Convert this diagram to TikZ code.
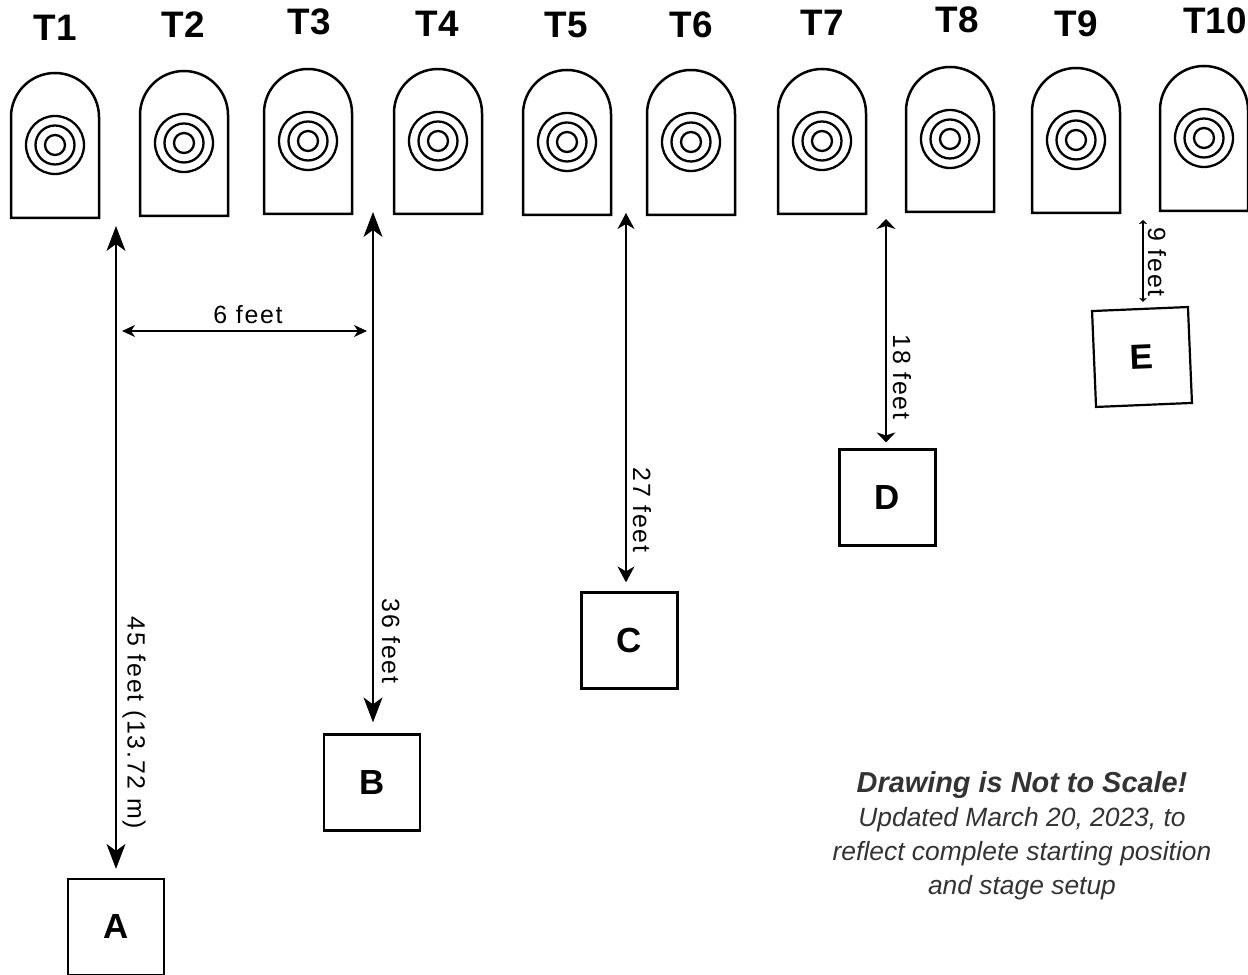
\documentclass[tikz,border=0pt]{standalone}
\usepackage{fontspec}
\setsansfont{Liberation Sans}
\newfontfamily\dimfont[LetterSpace=7]{Liberation Sans}
\usetikzlibrary{arrows.meta}
\definecolor{notegray}{HTML}{333333}

\begin{document}
\begin{tikzpicture}[
             x                = 1bp,
             y                = 1bp,
             target/.style    = {draw, line width = 2.5bp},
             ring/.style      = {draw, line width = 2.3bp},
             stand/.style     = {draw, line width = 2.2bp, minimum size = 96bp, inner sep = 0pt,
                                 font = \sffamily\bfseries\fontsize{35}{35}\selectfont},
             tlabel/.style    = {inner sep = 0pt, font = \sffamily\bfseries\fontsize{37}{37}\selectfont},
             dimlabel/.style  = {inner sep = 0pt, rotate = -90, font = \dimfont\fontsize{25}{25}\selectfont},
             dim/.style       = {line width = 1.2bp, <->},
             bigtips/.style   = {dim, >={Stealth[length = 25bp, width = 19bp, inset = 7bp]}},
             midtips/.style   = {dim, >={Stealth[length = 16bp, width = 17bp, inset = 5bp]}},
             flattips/.style  = {dim, >={Stealth[length = 10bp, width = 19bp, inset = 3bp]}},
             smalltips/.style = {dim, >={Stealth[length = 13bp, width = 12bp, inset = 4bp]}},
             tinytips/.style  = {dim, >={Stealth[length = 4bp, width = 8bp, inset = 1bp]}},
             note/.style      = {align = center, inner sep = 0pt, text = notegray,
                                 font = \sffamily\itshape\fontsize{26.5}{34}\selectfont}]
             \useasboundingbox (0,0) rectangle (1248,975);
             % targets T1 ... T10
             \foreach \i/\cx/\ty/\lx/\ly in {1/55/902/55/947, 2/184/904/183/950,
                    3/308/906/309/953, 4/438/906/437/951, 5/567/905/566/950,
                    6/691/905/691/950, 7/822/906/822/952, 8/950/908/957/955,
                    9/1076/907/1076/951, 10/1204/909/1215/954}{
               \draw [target] (\cx-44,\ty-145) -- (\cx-44,\ty-44)
                     arc [start angle=180, end angle=0, radius=44] -- (\cx+44,\ty-145) -- cycle;
               \coordinate (tgt\i) at (\cx,\ty-72);
               \foreach \r in {29,19.5,10}
                 \draw [ring] (tgt\i) circle [radius=\r];
               \node [tlabel] (lab\i) at (\lx,\ly) {T\i};
             }
             % starting positions
             \node [stand] (A) at (116,48)    {A};
             \node [stand] (B) at (372,192.5) {B};
             \node [stand] (C) at (629.5,334.5) {C};
             \node [stand] (D) at (887.5,477.5) {D};
             \node [stand, rotate=2.4] (E) at (1142,618) {E};
             % distances
             \coordinate (atop) at (116,749);
             \coordinate (btop) at (373,763);
             \coordinate (ctop) at (626,762);
             \coordinate (dtop) at (886,756);
             \coordinate (etop) at (1143,755);
             \draw [bigtips, shorten > = 9bp]  (atop) -- (atop |- A.north);
             \draw [bigtips, shorten > = 11bp] (btop) -- (btop |- B.north);
             \draw [midtips, shorten > = 9bp]  (ctop) -- (ctop |- C.north);
             \draw [flattips, shorten > = 6bp] (dtop) -- (dtop |- D.north);
             \draw [tinytips, shorten > = 6bp] (etop) -- (etop |- E.north);
             \coordinate (sixa) at (116,644);
             \coordinate (sixb) at (373,644);
             \draw [smalltips, shorten < = 6bp, shorten > = 6bp] (sixa) -- (sixb);
             \node [dimlabel, rotate = 90] (six) at (248,660) {6 feet};
             \node [dimlabel] (fortyfive) at (134,252) {45 feet (13.72 m)};
             \node [dimlabel] (thirtysix) at (391,334) {36 feet};
             \node [dimlabel] (twentyseven) at (642,465) {27 feet};
             \node [dimlabel] (eighteen) at (902,598) {18 feet};
             \node [dimlabel] (nine) at (1157,713) {9 feet};
             % note
             \node [note] (remark) at (1022,139) {{\bfseries\fontsize{29}{34}\selectfont Drawing is Not to Scale!}\\
                    Updated March 20, 2023, to\\ reflect complete starting position\\ and stage setup};
    \end{tikzpicture}
\end{document}
